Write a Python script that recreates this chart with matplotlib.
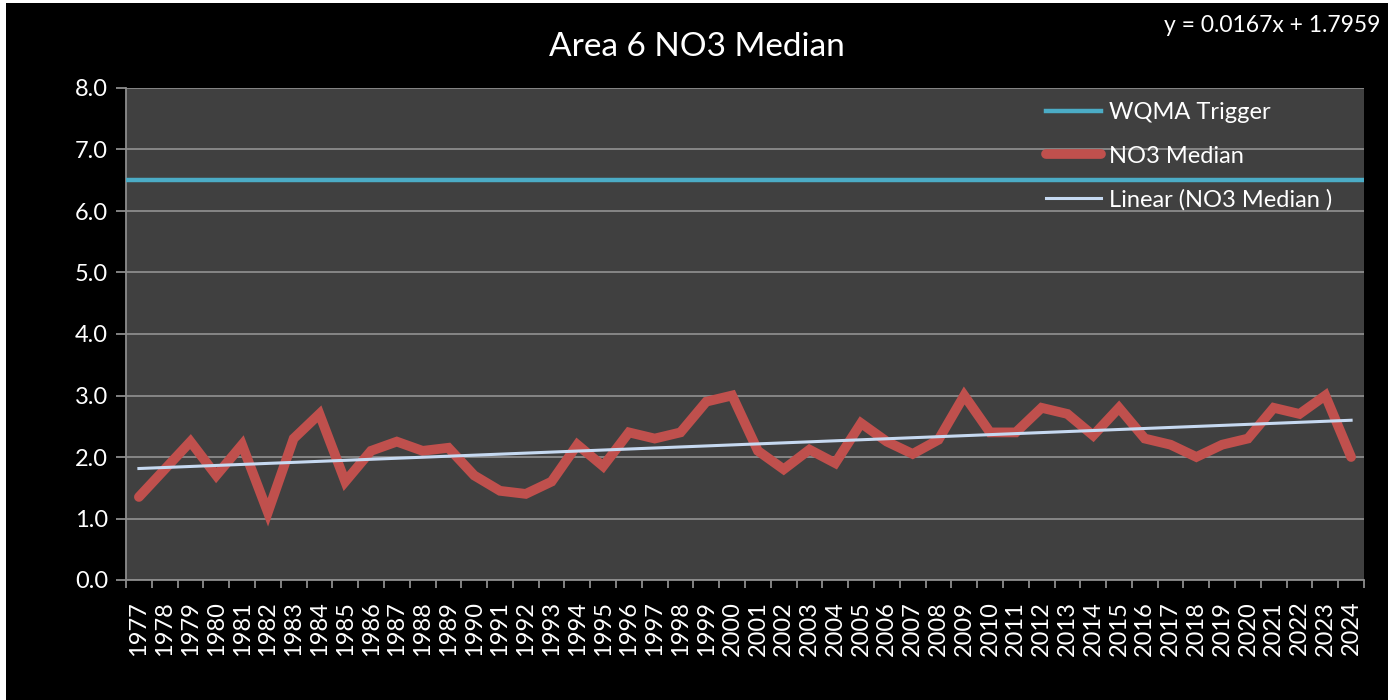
import matplotlib
matplotlib.use("Agg")
import matplotlib.pyplot as plt
import numpy as np

plt.rcParams["font.family"] = ["Lato", "DejaVu Sans"]

years = list(range(1977, 2025))
no3_median = [1.35, 1.80, 2.25, 1.70, 2.20, 1.10, 2.30, 2.70, 1.60, 2.10,
              2.25, 2.10, 2.15, 1.70, 1.45, 1.40, 1.60, 2.20, 1.85, 2.40,
              2.30, 2.40, 2.90, 3.00, 2.10, 1.80, 2.12, 1.90, 2.55, 2.25,
              2.05, 2.28, 3.00, 2.40, 2.40, 2.80, 2.70, 2.35, 2.80, 2.30,
              2.20, 2.00, 2.20, 2.30, 2.80, 2.70, 3.00, 2.00]
wqma_trigger = 6.5
trend_slope = 0.0167
trend_intercept = 1.7959

x = np.arange(len(years))
trend = trend_intercept + trend_slope * (x + 1)

fig = plt.figure(figsize=(13.88, 7.0), dpi=100)
fig.patch.set_facecolor("white")
# black chart area (thin white strip on top/left as in the reference)
fig.patches.append(plt.Rectangle((6 / 1388, 0), 1, 1 - 3 / 700, transform=fig.transFigure,
                                 facecolor="black", edgecolor="none", zorder=-10))

ax = fig.add_axes([126 / 1388, 1 - 580 / 700, 1238 / 1388, 492 / 700])
ax.set_facecolor("#404040")

ax.axhline(wqma_trigger, color="#4BACC6", lw=3.2, label="WQMA Trigger", zorder=3)
ax.plot(x, no3_median, color="#C0504D", lw=7, solid_joinstyle="miter",
        solid_capstyle="round", label="NO3 Median", zorder=4)
ax.plot(x, trend, color="#C6D9F1", lw=2.2, label="Linear (NO3 Median )", zorder=5)

ax.set_xlim(-0.5, len(years) - 0.5)
ax.set_ylim(0, 8)
ax.set_yticks(np.arange(0, 9, 1.0))
ax.set_yticklabels([f"{v:.1f}" for v in np.arange(0, 9, 1.0)])
ax.yaxis.grid(True, color="#8C8C8C", lw=1.3)
ax.set_axisbelow(True)

ax.set_xticks(x)
ax.set_xticklabels([str(y) for y in years], rotation=90)
ax.set_xticks(np.arange(-0.5, len(years), 1.0), minor=True)
ax.tick_params(axis="x", which="major", length=0, pad=15, labelsize=17, colors="white")
ax.tick_params(axis="x", which="minor", length=6, color="#8C8C8C", width=1.3)
ax.tick_params(axis="y", length=7, color="#8C8C8C", width=1.3, labelsize=17,
               colors="white", pad=6)
for lab in ax.get_yticklabels():
    lab.set_color("white")

for side in ["top", "right"]:
    ax.spines[side].set_visible(False)
ax.spines["left"].set_color("#8C8C8C")
ax.spines["left"].set_linewidth(1.3)
ax.spines["bottom"].set_color("#8C8C8C")
ax.spines["bottom"].set_linewidth(1.3)

leg = ax.legend(loc="upper left", bbox_to_anchor=(0.732, 1.0), frameon=False,
                fontsize=17, handlelength=2.3, handletextpad=0.35, labelspacing=0.95,
                borderaxespad=0.2)
for t in leg.get_texts():
    t.set_color("white")

fig.text(697 / 1388, 1 - 47 / 700, "Area 6 NO3 Median", color="white", fontsize=24,
         ha="center", va="center")
fig.text(1380 / 1388, 1 - 25 / 700, "y = 0.0167x + 1.7959", color="white", fontsize=16.5,
         ha="right", va="center")

fig.savefig("out.png", dpi=100, facecolor=fig.get_facecolor())
